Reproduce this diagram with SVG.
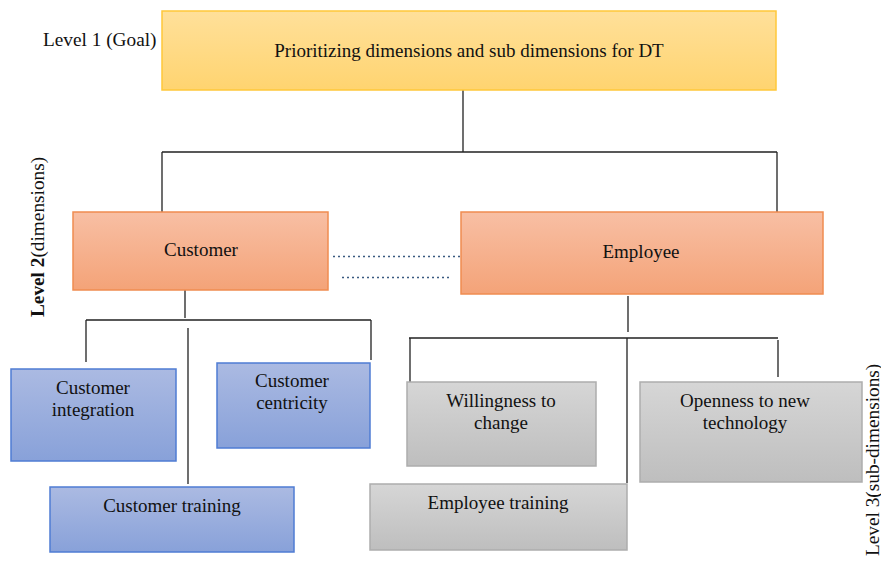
<svg xmlns="http://www.w3.org/2000/svg" width="881" height="563" viewBox="0 0 881 563">
  <defs>
    <linearGradient id="gGoal" x1="0" y1="0" x2="0" y2="1">
      <stop offset="0" stop-color="#FFE09A"/>
      <stop offset="1" stop-color="#FFD470"/>
    </linearGradient>
    <linearGradient id="gDim" x1="0" y1="0" x2="0" y2="1">
      <stop offset="0" stop-color="#F8BFA4"/>
      <stop offset="1" stop-color="#F4A378"/>
    </linearGradient>
    <linearGradient id="gCust" x1="0" y1="0" x2="0" y2="1">
      <stop offset="0" stop-color="#ABBAE2"/>
      <stop offset="1" stop-color="#88A1D9"/>
    </linearGradient>
    <linearGradient id="gEmp" x1="0" y1="0" x2="0" y2="1">
      <stop offset="0" stop-color="#D6D6D6"/>
      <stop offset="1" stop-color="#BEBEBE"/>
    </linearGradient>
  </defs>
  <style>
    text { font-family: "Liberation Serif", "Times New Roman", serif; fill: #111; }
    .lbl { font-size: 19px; text-anchor: middle; }
    .side { font-size: 19.3px; }
    .goal { fill: url(#gGoal); stroke: #FFC83A; stroke-width: 1.5; }
    .dim { fill: url(#gDim); stroke: #F08C50; stroke-width: 1.5; }
    .cust { fill: url(#gCust); stroke: #4F7CD3; stroke-width: 1.5; }
    .emp { fill: url(#gEmp); stroke: #ADADAD; stroke-width: 1.5; }
    .ln { stroke: #222; stroke-width: 1.3; fill: none; }
    .dot { stroke: #3a5a80; stroke-width: 1.3; stroke-dasharray: 2 3; fill: none; }
  </style>

  <rect width="881" height="563" fill="#fff"/>

  <!-- level labels -->
  <text class="side" x="43" y="46">Level 1 (Goal)</text>
  <text class="side" transform="translate(44,317) rotate(-90)"><tspan font-weight="bold">Level 2</tspan>(dimensions)</text>
  <text class="side" font-size="17" transform="translate(878.5,556) rotate(-90)">Level  3(sub-dimensions)</text>

  <!-- connectors -->
  <g id="connectors">
    <path class="ln" d="M463 90 V152 M162 152 H777 M162 152 V212 M777 152 V212"/>
    <path class="ln" d="M185 290 V318 M86 320 H371 M86 320 V362 M371 320 V360 M188 328 V484"/>
    <path class="ln" d="M628 296 V332 M409 338 H778 M410 338 V382 M778 340 V377 M627 338 V483"/>
    <path class="dot" d="M333 256.5 H460"/>
    <path class="dot" d="M342 277.5 H451"/>
  </g>

  <g id="goal">
    <rect class="goal" x="162" y="11" width="614" height="79"/>
    <text class="lbl" x="469" y="57">Prioritizing dimensions and sub dimensions for DT</text>
  </g>

  <g id="customer">
    <rect class="dim" x="73" y="212" width="255" height="78"/>
    <text class="lbl" x="201" y="256">Customer</text>
  </g>
  <g id="employee">
    <rect class="dim" x="461" y="212" width="362" height="82"/>
    <text class="lbl" x="641" y="258">Employee</text>
  </g>

  <g id="customer-integration">
    <rect class="cust" x="11" y="369" width="165" height="92"/>
    <text class="lbl" x="93" y="394">Customer</text>
    <text class="lbl" x="93" y="416">integration</text>
  </g>
  <g id="customer-centricity">
    <rect class="cust" x="217" y="363" width="153" height="85"/>
    <text class="lbl" x="292" y="387">Customer</text>
    <text class="lbl" x="292" y="409">centricity</text>
  </g>
  <g id="customer-training">
    <rect class="cust" x="50" y="487" width="244" height="65"/>
    <text class="lbl" x="172" y="512">Customer training</text>
  </g>

  <g id="willingness">
    <rect class="emp" x="407" y="382" width="189" height="84"/>
    <text class="lbl" x="501" y="407">Willingness to</text>
    <text class="lbl" x="501" y="429">change</text>
  </g>
  <g id="employee-training">
    <rect class="emp" x="370" y="484" width="257" height="66"/>
    <text class="lbl" x="498" y="509">Employee training</text>
  </g>
  <g id="openness">
    <rect class="emp" x="640" y="382" width="222" height="100"/>
    <text class="lbl" x="745" y="407">Openness to new</text>
    <text class="lbl" x="745" y="429">technology</text>
  </g>
</svg>
